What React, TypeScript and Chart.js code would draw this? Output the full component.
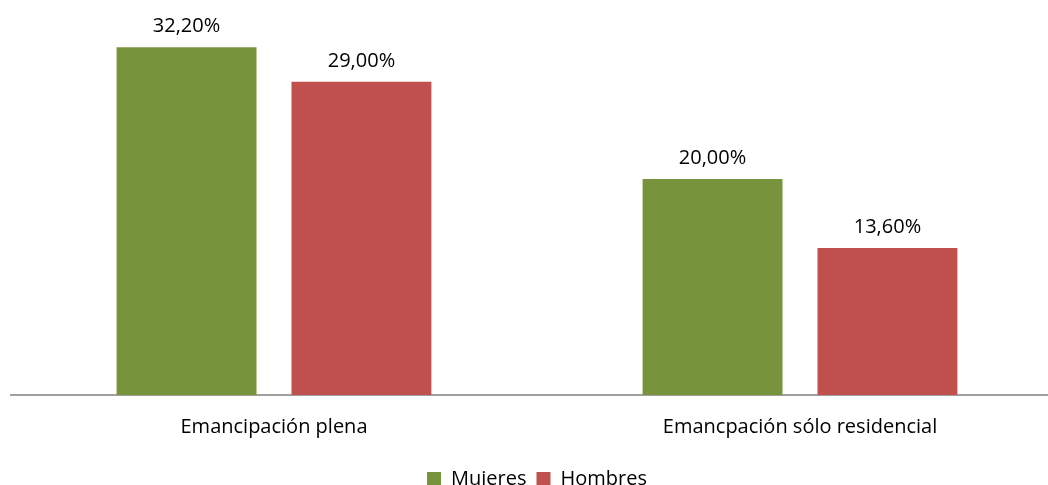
import React, { useEffect, useRef } from "react";
import { Chart, registerables } from "chart.js";

Chart.register(...registerables);

const categories = ["Emancipación plena", "Emancpación sólo residencial"];
const seriesNames = ["Mujeres", "Hombres"];
const mujeres = [32.2, 20.0];
const hombres = [29.0, 13.6];
const colors = ["#77933C", "#C0504D"];

const FONT = "'Open Sans', Lato, sans-serif";

const valueLabels = {
  id: "valueLabels",
  afterDatasetsDraw(chart: any) {
    const ctx = chart.ctx;
    ctx.save();
    ctx.font = `20px ${FONT}`;
    ctx.fillStyle = "#000";
    ctx.textAlign = "center";
    ctx.textBaseline = "middle";
    chart.data.datasets.forEach((ds: any, i: number) => {
      const meta = chart.getDatasetMeta(i);
      meta.data.forEach((bar: any, j: number) => {
        const v = ds.data[j] as number;
        const txt = v.toFixed(2).replace(".", ",") + "%";
        ctx.fillText(txt, bar.x, bar.y - 21);
      });
    });
    ctx.restore();
  },
};

export default function App() {
  const ref = useRef<HTMLCanvasElement>(null);
  useEffect(() => {
    if (!ref.current) return;
    const chart = new Chart(ref.current, {
      type: "bar",
      data: {
        labels: categories,
        datasets: [
          { label: seriesNames[0], data: mujeres, backgroundColor: colors[0] },
          { label: seriesNames[1], data: hombres, backgroundColor: colors[1] },
        ],
      },
      options: {
        animation: false,
        responsive: false,
        maintainAspectRatio: false,
        layout: { padding: { left: 11, right: 1, top: 17, bottom: 0 } },
        datasets: {
          bar: { categoryPercentage: 0.665, barPercentage: 0.8 },
        },
        plugins: {
          legend: {
            position: "bottom",
            labels: {
              font: { family: FONT, size: 20 },
              color: "#000",
              boxWidth: 14,
              boxHeight: 14,
              padding: 10,
            },
          },
          tooltip: { enabled: false },
        },
        scales: {
          x: {
            grid: { display: false, drawTicks: false },
            border: { display: true, color: "#A0A0A0", width: 2 },
            ticks: { font: { family: FONT, size: 20 }, color: "#000", padding: 20 },
          },
          y: { display: false, min: 0, max: 35 },
        },
      },
      plugins: [valueLabels],
    });
    return () => chart.destroy();
  }, []);
  return (
    <div style={{ position: "fixed", left: 0, top: 0, width: 1048, height: 485, overflow: "hidden", background: "#fff" }}>
      <canvas ref={ref} width={1064} height={499} style={{ display: "block" }} />
    </div>
  );
}
